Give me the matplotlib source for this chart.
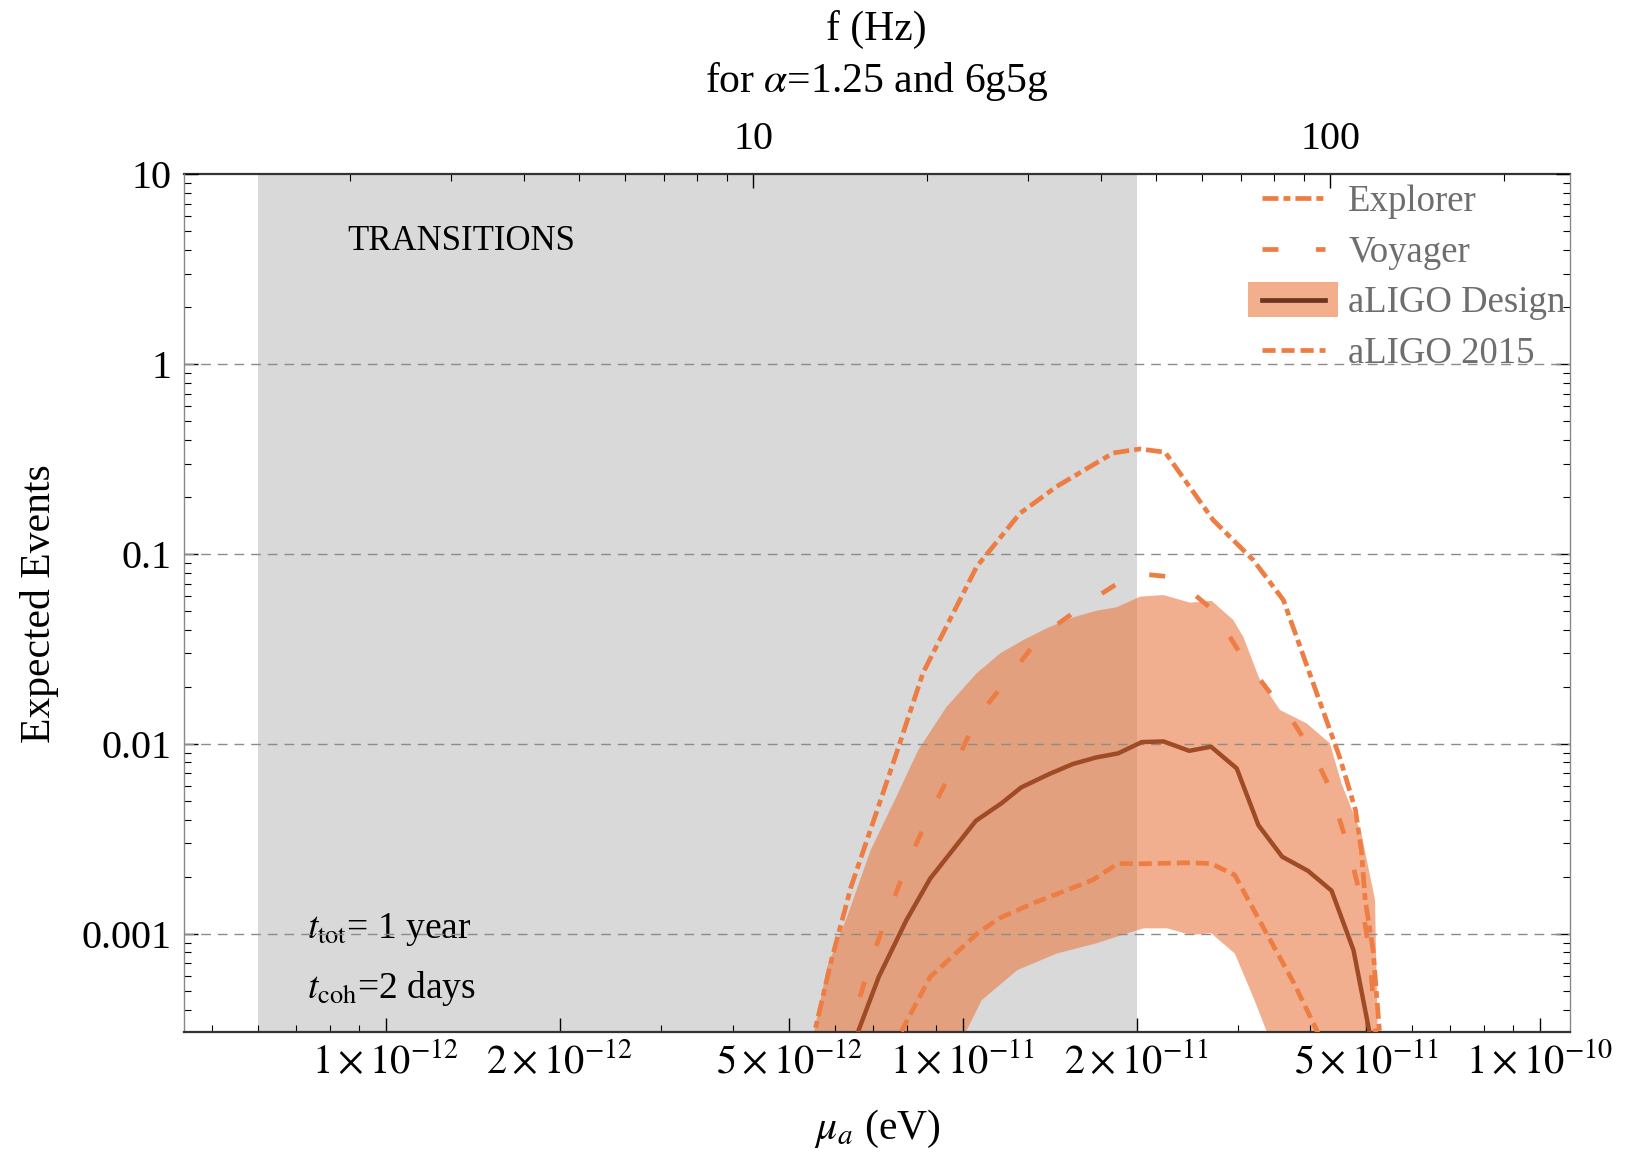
import numpy as np
import matplotlib
matplotlib.use("Agg")
import matplotlib.pyplot as plt
import matplotlib.patches as mpatches
from matplotlib.lines import Line2D
from matplotlib.legend_handler import HandlerPatch
from matplotlib.ticker import FixedLocator, FixedFormatter, NullFormatter, LogLocator

plt.rcParams["font.family"] = ["Liberation Serif", "DejaVu Serif"]
plt.rcParams["mathtext.fontset"] = "stix"
plt.rcParams["lines.scale_dashes"] = False

# boson mass (eV) vs expected events, per detector
explorer_mu = [5.45e-12, 5.92e-12, 6.40e-12, 7.04e-12, 7.63e-12, 8.53e-12, 1.057e-11,
               1.256e-11, 1.454e-11, 1.822e-11, 2.028e-11, 2.241e-11, 2.716e-11,
               3.187e-11, 3.593e-11, 4.50e-11, 4.79e-11, 4.905e-11, 4.98e-11,
               5.14e-11, 5.30e-11]
explorer = [2.5e-4, 7.3e-4, 1.77e-3, 4.14e-3, 8.5e-3, 2.37e-2, 8.6e-2,
            0.164, 0.227, 0.341, 0.358, 0.344, 0.151,
            0.093, 0.0573, 8.5e-3, 4.5e-3, 2.76e-3, 1.51e-3,
            8.2e-4, 2.5e-4]

voyager_mu = [6.25e-12, 6.87e-12, 7.38e-12, 7.98e-12, 8.71e-12, 9.65e-12, 1.061e-11,
              1.191e-11, 1.360e-11, 1.639e-11, 1.975e-11, 2.286e-11, 2.406e-11,
              2.714e-11, 3.022e-11, 3.45e-11, 3.596e-11, 4.05e-11, 4.314e-11,
              4.67e-11, 4.905e-11, 5.07e-11, 5.22e-11]
voyager = [2.5e-4, 6.7e-4, 1.23e-3, 2.26e-3, 4.14e-3, 7.6e-3, 0.0139,
           0.0217, 0.0367, 0.0551, 0.0793, 0.0760, 0.0688,
           0.0507, 0.0301, 0.0177, 0.0157, 8.9e-3, 5.97e-3,
           2.77e-3, 1.51e-3, 7.8e-4, 2.5e-4]

design_mu = [6.42e-12, 7.15e-12, 7.98e-12, 8.78e-12, 1.053e-11, 1.166e-11, 1.262e-11,
             1.410e-11, 1.549e-11, 1.703e-11, 1.858e-11, 2.042e-11, 2.227e-11,
             2.468e-11, 2.692e-11, 2.983e-11, 3.252e-11, 3.576e-11, 3.963e-11,
             4.355e-11, 4.753e-11, 5.13e-11]
design = [2.5e-4, 5.95e-4, 1.18e-3, 1.96e-3, 3.94e-3, 4.87e-3, 5.91e-3,
          6.94e-3, 7.84e-3, 8.50e-3, 8.93e-3, 0.01024, 0.01032,
          9.21e-3, 9.68e-3, 7.44e-3, 3.74e-3, 2.55e-3, 2.15e-3,
          1.69e-3, 8.22e-4, 2.5e-4]

# spread of the aLIGO Design estimate
band_hi_mu = [5.45e-12, 5.82e-12, 6.30e-12, 6.92e-12, 7.62e-12, 8.37e-12, 9.37e-12,
              1.057e-11, 1.160e-11, 1.273e-11, 1.398e-11, 1.533e-11, 1.706e-11,
              1.847e-11, 2.028e-11, 2.226e-11, 2.476e-11, 2.699e-11, 2.942e-11,
              3.062e-11, 3.273e-11, 3.545e-11, 3.944e-11, 4.327e-11, 4.531e-11,
              4.905e-11, 5.18e-11, 5.24e-11]
band_hi = [2.5e-4, 6.71e-4, 1.23e-3, 2.76e-3, 5.07e-3, 9.30e-3, 0.0157,
           0.0236, 0.0300, 0.0353, 0.0407, 0.0459, 0.0504,
           0.0525, 0.0597, 0.0609, 0.0555, 0.0568, 0.0450,
           0.0367, 0.0217, 0.0151, 0.01284, 0.01008, 6.21e-3,
           3.38e-3, 1.51e-3, 2.5e-4]
band_lo_mu = [9.8e-12, 1.078e-11, 1.243e-11, 1.455e-11, 1.703e-11, 1.932e-11, 2.058e-11,
              2.262e-11, 2.487e-11, 2.692e-11, 2.96e-11, 3.202e-11, 3.45e-11]
band_lo = [2.5e-4, 4.48e-4, 6.45e-4, 7.89e-4, 8.92e-4, 1.01e-3, 1.07e-3,
           1.07e-3, 9.86e-4, 1.01e-3, 7.89e-4, 4.48e-4, 2.5e-4]

aligo15_mu = [7.55e-12, 8.78e-12, 1.061e-11, 1.157e-11, 1.323e-11, 1.677e-11, 1.858e-11,
              2.026e-11, 2.449e-11, 2.692e-11, 2.960e-11, 3.358e-11, 3.75e-11, 4.25e-11]
aligo15 = [2.5e-4, 5.95e-4, 1.01e-3, 1.21e-3, 1.45e-3, 1.92e-3, 2.35e-3,
           2.34e-3, 2.37e-3, 2.35e-3, 2.04e-3, 1.01e-3, 5.49e-4, 2.5e-4]

x_major = [1e-12, 2e-12, 5e-12, 1e-11, 2e-11, 5e-11, 1e-10]
x_labels = [r"$1\times10^{-12}$", r"$2\times10^{-12}$", r"$5\times10^{-12}$",
            r"$1\times10^{-11}$", r"$2\times10^{-11}$", r"$5\times10^{-11}$",
            r"$1\times10^{-10}$"]
y_major = [1e-3, 1e-2, 1e-1, 1, 10]
y_labels = ["0.001", "0.01", "0.1", "1", "10"]
f_major = [10, 100]
f_minor = [2, 3, 4, 5, 6, 7, 8, 9, 20, 30, 40, 50, 60, 70, 80, 90, 200]

# GW frequency of the 6g -> 5g transition
alpha = 1.25
h_ev = 4.135667e-15
hz_per_ev = 0.5 * alpha**2 * (1 / 5**2 - 1 / 6**2) / h_ev

orange = "#EE7D43"
brown = "#9E4B26"
band_color = "#EA7B44"

explorer_ls = (0, (11.5, 3.6, 5.0, 3.6))
voyager_ls = (0, (11.5, 27))
aligo15_ls = (0, (9.4, 4.3))
lw = 3.4

fig = plt.figure(figsize=(16.27, 11.52), dpi=100)
ax = fig.add_axes([0.1128, 0.1038, 0.8522, 0.7449])
ax.set_xscale("log")
ax.set_yscale("log")
ax.set_xlim(4.46e-13, 1.128e-10)
ax.set_ylim(3.03e-4, 10)

ax.axvspan(6e-13, 2e-11, color="#d9d9d9", lw=0, zorder=0)

band_x = np.concatenate([band_hi_mu, band_lo_mu[::-1]])
band_y = np.concatenate([band_hi, band_lo[::-1]])
ax.fill(band_x, band_y, color=band_color, alpha=0.6, lw=0, zorder=1)

for y in [1, 0.1, 0.01, 0.001]:
    ax.axhline(y, color="#8c8c8c", lw=1.0, ls=(0, (7, 5)), zorder=2)

ax.plot(explorer_mu, explorer, color=orange, lw=lw, ls=explorer_ls, zorder=3)
ax.plot(voyager_mu, voyager, color=orange, lw=lw, ls=voyager_ls, zorder=3)
ax.plot(design_mu, design, color=brown, lw=3.2, zorder=3)
ax.plot(aligo15_mu, aligo15, color=orange, lw=lw, ls=aligo15_ls, zorder=3)

# ticks
ax.xaxis.set_major_locator(FixedLocator(x_major))
ax.xaxis.set_major_formatter(FixedFormatter(x_labels))
ax.xaxis.set_minor_locator(LogLocator(base=10, subs=np.arange(2, 10), numticks=30))
ax.xaxis.set_minor_formatter(NullFormatter())
ax.yaxis.set_major_locator(FixedLocator(y_major))
ax.yaxis.set_major_formatter(FixedFormatter(y_labels))
ax.yaxis.set_minor_locator(LogLocator(base=10, subs=np.arange(2, 10), numticks=30))
ax.yaxis.set_minor_formatter(NullFormatter())
ax.tick_params(which="both", direction="in", top=False, bottom=True,
               left=True, right=True, labelsize=29)
ax.tick_params(which="major", length=10, width=1.0)
ax.tick_params(which="minor", length=5, width=0.8)
ax.tick_params(axis="x", pad=8)
ax.tick_params(axis="y", pad=9)

secax = ax.secondary_xaxis("top", functions=(lambda m: m * hz_per_ev,
                                             lambda f: f / hz_per_ev))
secax.xaxis.set_major_locator(FixedLocator(f_major))
secax.xaxis.set_major_formatter(FixedFormatter(["10", "100"]))
secax.xaxis.set_minor_locator(FixedLocator(f_minor))
secax.xaxis.set_minor_formatter(NullFormatter())
secax.tick_params(which="both", direction="in", labelsize=29, pad=12)
secax.tick_params(which="major", length=10, width=1.0)
secax.tick_params(which="minor", length=5, width=0.8)

for s in ["left", "right"]:
    ax.spines[s].set_color("#888888")
    ax.spines[s].set_linewidth(1.0)
ax.spines["bottom"].set_color("#333333")
ax.spines["bottom"].set_linewidth(1.6)
ax.spines["top"].set_visible(False)
secax.spines["top"].set_color("#333333")
secax.spines["top"].set_linewidth(1.6)

# axis titles
ax.text(0.5, 1.1693, "f (Hz)", transform=ax.transAxes, ha="center", va="center", fontsize=30)
ax.text(0.5, 1.1087, r"for $\alpha$=1.25 and 6g5g", transform=ax.transAxes,
        ha="center", va="center", fontsize=30)
ax.text(-0.104, 0.5, "Expected Events", transform=ax.transAxes, rotation=90,
        ha="center", va="center", fontsize=30)
ax.text(0.5, -0.1126, r"$\mu_a$ (eV)", transform=ax.transAxes,
        ha="center", va="center", fontsize=30)

ax.text(8.58e-13, 4.42, "TRANSITIONS", ha="left", va="center", fontsize=25, zorder=4)
ax.text(7.29e-13, 1.06e-3, r"$t_{\rm tot}$= 1 year", ha="left", va="center", fontsize=27, zorder=1.5)
ax.text(7.29e-13, 5.13e-4, r"$t_{\rm coh}$=2 days", ha="left", va="center", fontsize=27, zorder=1.5)


def wide_patch(legend, orig_handle, xdescent, ydescent, width, height, fontsize):
    return mpatches.Rectangle((-xdescent - 0.22 * width, -ydescent - 0.18 * height),
                              1.43 * width, 1.36 * height)


h_explorer = Line2D([], [], color=orange, lw=lw, ls=explorer_ls)
h_voyager = Line2D([], [], color=orange, lw=lw, ls=voyager_ls)
h_design = (mpatches.Patch(facecolor="#F3AE8C", edgecolor="none"),
            Line2D([], [], color="#6B3520", lw=3.4))
h_2015 = Line2D([], [], color=orange, lw=lw, ls=aligo15_ls)
leg = ax.legend([h_explorer, h_voyager, h_design, h_2015],
                ["Explorer", "Voyager", "aLIGO Design", "aLIGO 2015"],
                loc="upper left", bbox_to_anchor=(0.778, 0.988), frameon=False,
                fontsize=26.5, handlelength=1.71, handletextpad=0.63,
                labelspacing=0.44, borderpad=0, borderaxespad=0,
                handler_map={mpatches.Patch: HandlerPatch(patch_func=wide_patch)})
for t in leg.get_texts():
    t.set_color("#6e6e6e")

fig.savefig("out.png", dpi=100)
